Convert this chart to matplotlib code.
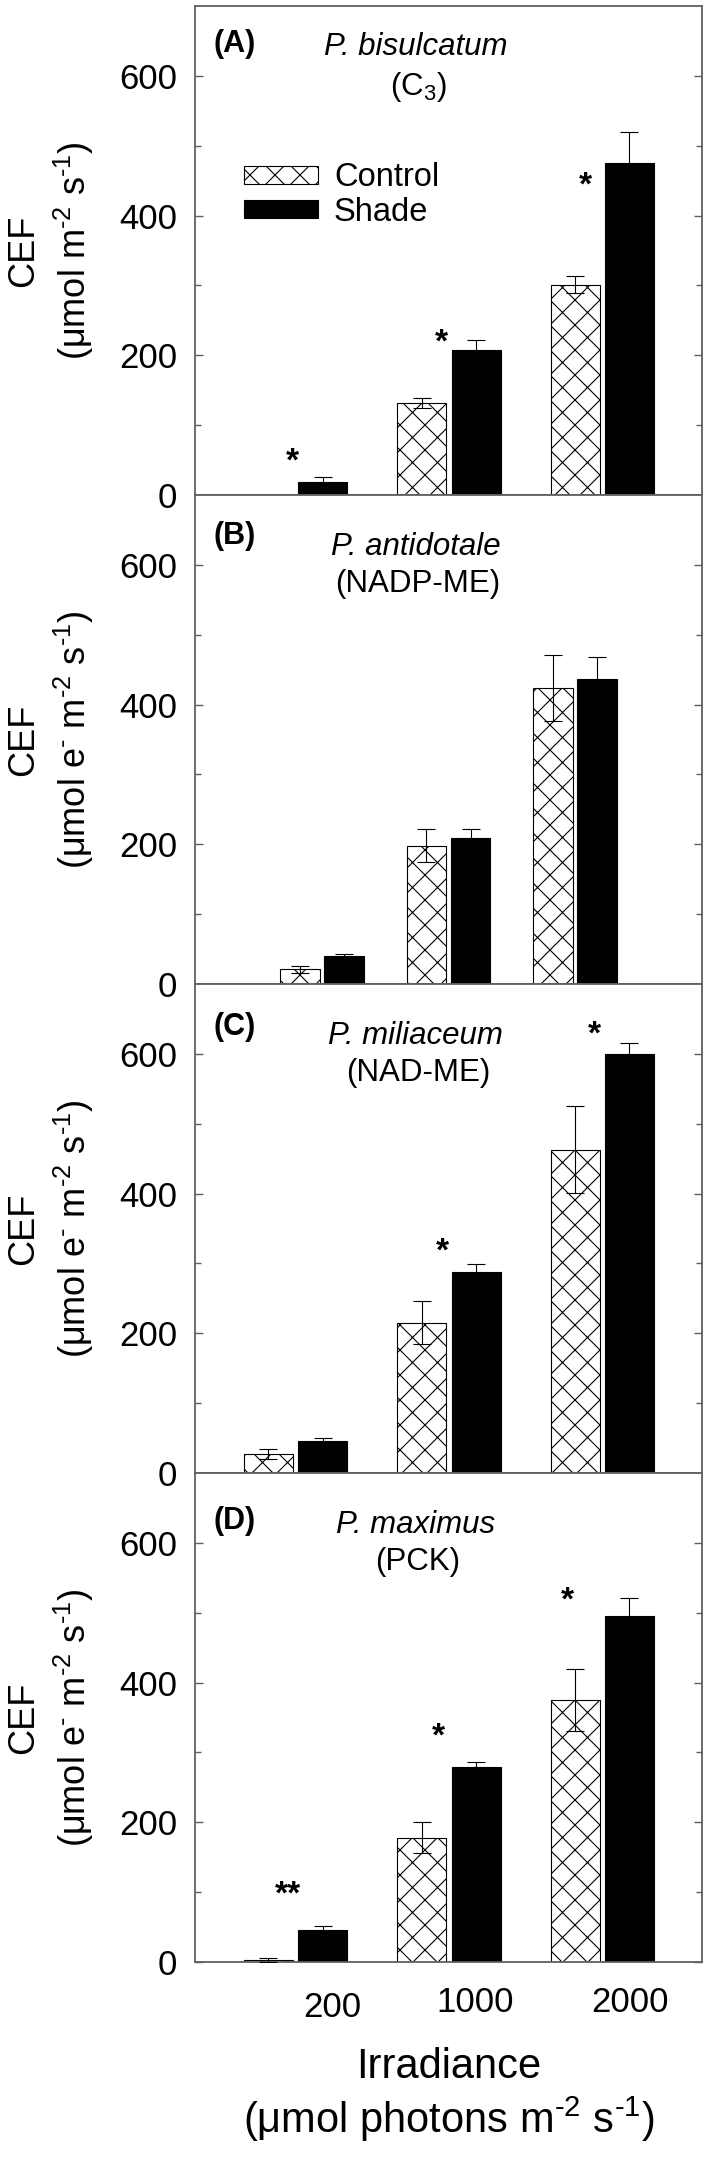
import numpy as np
import matplotlib
matplotlib.use('Agg')
import matplotlib.pyplot as plt
from matplotlib.transforms import ScaledTranslation, blended_transform_factory
from matplotlib.backend_bases import GraphicsContextBase

plt.rcParams['font.family'] = ['Liberation Sans', 'DejaVu Sans']
plt.rcParams['mathtext.fontset'] = 'custom'
plt.rcParams['mathtext.rm'] = 'Liberation Sans'
plt.rcParams['mathtext.it'] = 'Liberation Sans:italic'
plt.rcParams['mathtext.bf'] = 'Liberation Sans:bold'
plt.rcParams['hatch.linewidth'] = 0.8

# denser cross-hatch, like the reference
_orig_hatch_path = GraphicsContextBase.get_hatch_path


def _dense_hatch_path(self, density=8.0):
    return _orig_hatch_path(self, density)


GraphicsContextBase.get_hatch_path = _dense_hatch_path

# ---------------- data ----------------
irradiance = ['200', '1000', '2000']
panel_letters = ['(A)', '(B)', '(C)', '(D)']
species = ['P. bisulcatum', 'P. antidotale', 'P. miliaceum', 'P. maximus']
pathways = ['(C$_{3}$)', '(NADP-ME)', '(NAD-ME)', '(PCK)']
ylabel_units = [r'(μmol m$^{\text{-2}}$ s$^{\text{-1}}$)',
                r'(μmol e$^{\text{-}}$ m$^{\text{-2}}$ s$^{\text{-1}}$)',
                r'(μmol e$^{\text{-}}$ m$^{\text{-2}}$ s$^{\text{-1}}$)',
                r'(μmol e$^{\text{-}}$ m$^{\text{-2}}$ s$^{\text{-1}}$)']
xlabel_main = 'Irradiance'
xlabel_units = r'(μmol photons m$^{\text{-2}}$ s$^{\text{-1}}$)'

control_A = [0, 132, 301]
control_A_err = [0, 7, 12]
shade_A = [19, 207, 475]
shade_A_err = [7, 15, 45]

control_B = [21, 198, 424]
control_B_err = [5, 24, 47]
shade_B = [40, 209, 437]
shade_B_err = [3, 13, 31]

control_C = [27, 215, 463]
control_C_err = [7, 31, 62]
shade_C = [46, 288, 600]
shade_C_err = [4, 11, 15]

control_D = [3, 178, 375]
control_D_err = [3, 22, 44]
shade_D = [46, 279, 495]
shade_D_err = [6, 8, 26]

sig_A = ['*', '*', '*']
sig_A_y = [62, 232, 457]
sig_B = ['', '', '']
sig_B_y = [np.nan, np.nan, np.nan]
sig_C = ['', '*', '*']
sig_C_y = [np.nan, 331, 642]
sig_D = ['**', '*', '*']
sig_D_y = [111, 337, 532]

controls = [control_A, control_B, control_C, control_D]
control_errs = [control_A_err, control_B_err, control_C_err, control_D_err]
shades = [shade_A, shade_B, shade_C, shade_D]
shade_errs = [shade_A_err, shade_B_err, shade_C_err, shade_D_err]
sigs = [sig_A, sig_B, sig_C, sig_D]
sig_ys = [sig_A_y, sig_B_y, sig_C_y, sig_D_y]

# ---------------- layout ----------------
W, H = 709, 2158
fig = plt.figure(figsize=(W / 100, H / 100), dpi=100)

ax_left = 195 / W
ax_w = 507 / W
panel_tops = [6, 495, 984, 1473]
panel_h = 489

xlims = [(-0.656, 2.65), (-1.0, 3.0), (-0.656, 2.65), (-0.656, 2.65)]
bar_w = [0.32, 0.313, 0.32, 0.32]
bar_off = [0.177, 0.174, 0.177, 0.177]
sig_xoff = [[-0.02, -0.05, -0.11], [0, 0, 0], [0, -0.04, -0.05], [-0.05, -0.07, -0.23]]
title_y = [(651, 647, 591), (646, 631, 578), (644, 630, 577), (637, 631, 578)]
xlab_off = [0.24, 0.17, 0.18]

spine_col = '#606060'
x = np.arange(len(irradiance))

for i in range(4):
    bottom = 1 - (panel_tops[i] + panel_h) / H
    ax = fig.add_axes([ax_left, bottom, ax_w, panel_h / H])
    c = np.array(controls[i], float)
    ce = np.array(control_errs[i], float)
    s = np.array(shades[i], float)
    se = np.array(shade_errs[i], float)
    xc = x - bar_off[i]
    xs = x + bar_off[i]
    bc = ax.bar(xc, c, bar_w[i], color='white', edgecolor='black', hatch='x',
                linewidth=0.8, zorder=2)
    bs = ax.bar(xs, s, bar_w[i], color='black', edgecolor='black',
                linewidth=0.8, zorder=2)
    m = ce > 0
    ax.errorbar(xc[m], c[m], yerr=ce[m], fmt='none', ecolor='black',
                elinewidth=0.8, capsize=6.5, capthick=0.8, zorder=3)
    m = se > 0
    ax.errorbar(xs[m], s[m], yerr=se[m], fmt='none', ecolor='black',
                elinewidth=0.8, capsize=6.5, capthick=0.8, zorder=3)

    off = ScaledTranslation(0, -0.07, fig.dpi_scale_trans)
    for j in range(3):
        if sigs[i][j]:
            ax.text(x[j] + sig_xoff[i][j], sig_ys[i][j], sigs[i][j],
                    ha='center', va='center_baseline', fontsize=24,
                    fontweight='bold', transform=ax.transData + off)

    ax.set_xlim(*xlims[i])
    ax.set_ylim(0, 700)
    ax.set_yticks([0, 200, 400, 600])
    ax.set_yticks([100, 300, 500], minor=True)
    ax.tick_params(axis='y', which='both', direction='in', left=True, right=True,
                   color=spine_col, labelsize=25, pad=13)
    ax.tick_params(axis='y', which='major', length=6, width=1)
    ax.tick_params(axis='y', which='minor', length=4, width=1)
    for sp in ax.spines.values():
        sp.set_color(spine_col)
        sp.set_linewidth(1.3)

    if i == 3:
        ax.set_xticks(x + np.array(xlab_off))
        ax.set_xticklabels(irradiance, fontsize=25)
        ax.tick_params(axis='x', length=0, pad=17)
        lab0 = ax.get_xticklabels()[0]
        lab0.set_transform(lab0.get_transform() +
                           ScaledTranslation(0, -0.05, fig.dpi_scale_trans))
    else:
        ax.set_xticks([])

    tr = blended_transform_factory(ax.transAxes, ax.transData)
    ty = title_y[i]
    ax.text(0.036, ty[0], panel_letters[i], transform=tr, fontsize=22,
            fontweight='bold', ha='left', va='center_baseline')
    ax.text(0.435, ty[1], species[i], transform=tr, fontsize=22.5,
            style='italic', ha='center', va='center_baseline')
    ax.text(0.44, ty[2], pathways[i], transform=tr, fontsize=22.5,
            ha='center', va='center_baseline')

    if i == 0:
        ax.legend([bc, bs], ['Control', 'Shade'], loc='upper left',
                  bbox_to_anchor=(0.097, 0.68), frameon=False, fontsize=23.5,
                  handlelength=2.25, handleheight=0.45, handletextpad=0.5,
                  labelspacing=0.1, borderpad=0, borderaxespad=0)

    yc = 1 - (panel_tops[i] + panel_h / 2) / H
    fig.text(33 / W, yc, 'CEF', rotation=90, rotation_mode='anchor',
             ha='center', va='baseline', fontsize=26)
    fig.text(86 / W, yc, ylabel_units[i], rotation=90, rotation_mode='anchor',
             ha='center', va='baseline', fontsize=26)

xc_fig = ax_left + ax_w / 2
fig.text(xc_fig, 1 - 2078 / H, xlabel_main, ha='center', va='baseline', fontsize=30)
fig.text(xc_fig, 1 - 2133 / H, xlabel_units,
         ha='center', va='baseline', fontsize=30)

fig.savefig('out.png', dpi=100)
